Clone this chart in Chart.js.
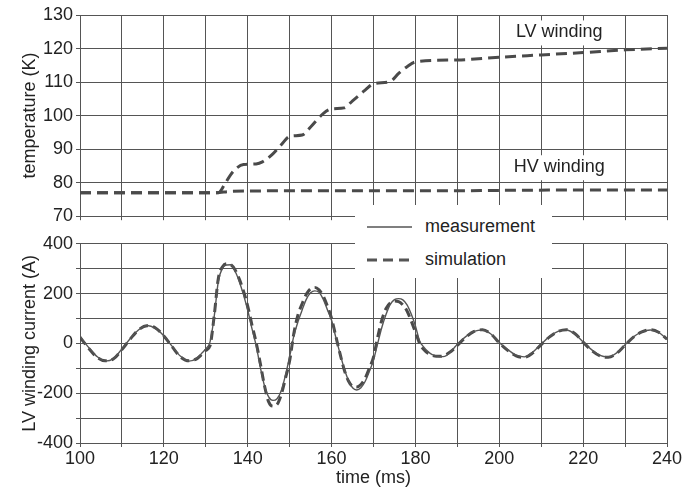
<!DOCTYPE html>
<html>
<head>
<meta charset="utf-8">
<script src="https://cdn.jsdelivr.net/npm/chart.js@4.4.1/dist/chart.umd.min.js"></script>
<style>
  body { margin: 0; background: #fff; }
  #wrap { position: relative; width: 693px; height: 489px; }
  canvas { position: absolute; left: 0; }
  #top { top: 0; }
  #bottom { top: 230px; }
  #legend {
    position: absolute; left: 355px; top: 205px; width: 197px; height: 73px;
    background: #fff; font: 18px "Liberation Sans", Arial, sans-serif; color: #222;
  }
  #legend svg { position: absolute; left: 0; top: 0; }
  #legend span { position: absolute; left: 70px; line-height: 20px; }
</style>
</head>
<body>
<div id="wrap">
  <canvas id="top" width="693" height="230"></canvas>
  <canvas id="bottom" width="693" height="259"></canvas>
  <div id="legend">
    <svg width="197" height="73">
      <line x1="12" y1="22" x2="57" y2="22" stroke="#555" stroke-width="1.4"/>
      <line x1="12" y1="55" x2="57" y2="55" stroke="#555" stroke-width="3" stroke-dasharray="10,6"/>
    </svg>
    <span style="top:11px">measurement</span>
    <span style="top:44px">simulation</span>
  </div>
</div>
<script>
// --- temperature panel (simulation only) ---
const lvTimes = [100, 133, 134.5, 136, 137.5, 139, 142, 143.5, 146, 148, 150, 153, 155, 158, 160,
                 163, 165, 168, 170, 174, 176, 178, 180, 190, 200, 210, 220, 230, 240];
const lvTemp = [77, 77, 79.5, 82.5, 84.5, 85.4, 85.6, 86.2, 88.6, 91.3, 93.8, 94.2, 96.6, 100.6, 102,
                102.3, 104.4, 107.6, 109.5, 110.2, 112.6, 114.6, 116, 116.6, 117.4, 118.1, 118.8, 119.6, 120.1];
const hvTimes = [100, 132, 136, 140, 160, 190, 200, 220, 240];
const hvTemp = [77, 77, 77.4, 77.5, 77.6, 77.6, 77.7, 77.8, 77.8];

// --- LV winding current panel ---
const currentTimes = [100, 102, 104, 106, 108, 110, 112, 114, 116, 118, 120, 122, 124, 126, 128, 129,
  130, 131, 132, 133, 134, 135, 136, 137, 138, 139, 140, 141, 142, 143, 144, 145, 146, 147, 148, 149,
  150, 151, 152, 153, 154, 155, 156, 157, 158, 159, 160, 161, 162, 163, 164, 165, 166, 167, 168, 169,
  170, 171, 172, 173, 174, 175, 176, 177, 178, 179, 180, 181, 182, 183, 184, 185, 186, 187, 188, 189,
  190, 192, 194, 196, 198, 200, 202, 204, 206, 208, 210, 212, 214, 216, 218, 220, 222, 224, 226, 228,
  230, 232, 234, 236, 238, 240];
const measured = [28, -15, -52, -71, -61, -22, 20, 55, 72, 60, 30, -12, -52, -71, -58, -40,
  -22, 5, 107, 250, 303, 315, 316, 290, 248, 195, 133, 60, -8, -95, -170, -215, -229, -222, -190, -128,
  -53, 30, 88, 135, 178, 203, 211, 205, 178, 135, 93, 25, -40, -100, -148, -178, -187, -178, -153, -113,
  -67, 0, 65, 117, 157, 176, 180, 175, 155, 118, 70, 10, -15, -33, -45, -50, -53, -52, -40, -22,
  -3, 27, 48, 54, 38, 4, -25, -47, -54, -35, -3, 28, 48, 54, 38, 6, -25, -48, -54, -38,
  -5, 26, 46, 54, 44, 17];
const simulated = [25, -18, -55, -70, -62, -25, 18, 55, 71, 62, 30, -14, -55, -70, -60, -45,
  -28, -10, 110, 262, 308, 320, 316, 295, 258, 210, 150, 75, 5, -80, -170, -235, -252, -245, -205, -140,
  -70, 40, 115, 160, 198, 220, 225, 215, 190, 150, 100, 30, -40, -105, -150, -172, -175, -165, -140, -100,
  -55, 25, 95, 140, 163, 170, 168, 155, 130, 90, 45, 0, -25, -40, -48, -52, -52, -48, -38, -25,
  -8, 25, 48, 55, 38, 2, -28, -50, -56, -38, -5, 26, 48, 55, 40, 5, -28, -50, -56, -40,
  -7, 25, 46, 55, 45, 17];

const FONT = { family: '"Liberation Sans", Arial, sans-serif', size: 18 };
const GRID = '#555';
const TEXT = '#222';

function pts(xs, ys) { return xs.map((x, i) => ({ x, y: ys[i] })); }

function xScale(showLabels, height, withTitle) {
  return {
    type: 'linear', min: 100, max: 240,
    afterFit: s => { s.height = height; },
    grid: { color: GRID, lineWidth: 1, tickLength: 4 },
    border: { color: GRID, width: 1 },
    ticks: {
      display: showLabels, stepSize: 10, autoSkip: false, maxRotation: 0,
      padding: 1, color: TEXT, font: FONT,
      callback: v => (v % 20 === 0 ? v : '')
    },
    title: { display: withTitle, text: 'time (ms)', color: TEXT, font: FONT, padding: { top: 0, bottom: 0 } }
  };
}

function yScale(min, max, step, labelStep, title) {
  return {
    min, max,
    afterFit: s => { s.width = 80; },
    grid: { color: GRID, lineWidth: 1, tickLength: 4 },
    border: { color: GRID, width: 1 },
    ticks: {
      stepSize: step, autoSkip: false, padding: 3, color: TEXT, font: FONT,
      callback: v => (v % labelStep === 0 ? v : '')
    },
    title: { display: true, text: title, color: TEXT, font: FONT, padding: { top: 19, bottom: 0 } }
  };
}

const dashed = { borderColor: '#4a4a4a', borderWidth: 3, borderDash: [11, 6], pointRadius: 0,
                 fill: false, cubicInterpolationMode: 'monotone' };

// white-backed text labels inside the temperature panel, placed in data units
const windingLabels = {
  id: 'windingLabels',
  afterDatasetsDraw(chart) {
    const { ctx, scales: { x, y } } = chart;
    const notes = [['LV winding', 214.3, 124.8], ['HV winding', 214.3, 84.6]];
    ctx.save();
    ctx.font = '18px "Liberation Sans", Arial, sans-serif';
    ctx.textAlign = 'center';
    ctx.textBaseline = 'middle';
    notes.forEach(([t, xv, yv]) => {
      const px = x.getPixelForValue(xv), py = y.getPixelForValue(yv);
      const w = ctx.measureText(t).width + 8;
      ctx.fillStyle = '#fff';
      ctx.fillRect(px - w / 2, py - 12, w, 25);
      ctx.fillStyle = TEXT;
      ctx.fillText(t, px, py);
    });
    ctx.restore();
  }
};

new Chart(document.getElementById('top'), {
  type: 'line',
  data: {
    datasets: [
      { label: 'LV winding', data: pts(lvTimes, lvTemp), ...dashed },
      { label: 'HV winding', data: pts(hvTimes, hvTemp), ...dashed }
    ]
  },
  options: {
    responsive: false, animation: false,
    layout: { padding: { left: 0, right: 26, top: 15, bottom: 0 } },
    plugins: { legend: { display: false }, tooltip: { enabled: false } },
    scales: {
      x: xScale(false, 13, false),
      y: yScale(70, 130, 10, 10, 'temperature (K)')
    }
  },
  plugins: [windingLabels]
});

new Chart(document.getElementById('bottom'), {
  type: 'line',
  data: {
    datasets: [
      { label: 'measurement', data: pts(currentTimes, measured), borderColor: '#555', borderWidth: 1.4,
        pointRadius: 0, fill: false, cubicInterpolationMode: 'monotone' },
      { label: 'simulation', data: pts(currentTimes, simulated), ...dashed, borderDash: [9, 5] }
    ]
  },
  options: {
    responsive: false, animation: false,
    layout: { padding: { left: 0, right: 26, top: 13, bottom: 0 } },
    plugins: { legend: { display: false }, tooltip: { enabled: false } },
    scales: {
      x: xScale(true, 46, true),
      y: yScale(-400, 400, 100, 200, 'LV winding current (A)')
    }
  }
});
</script>
</body>
</html>
